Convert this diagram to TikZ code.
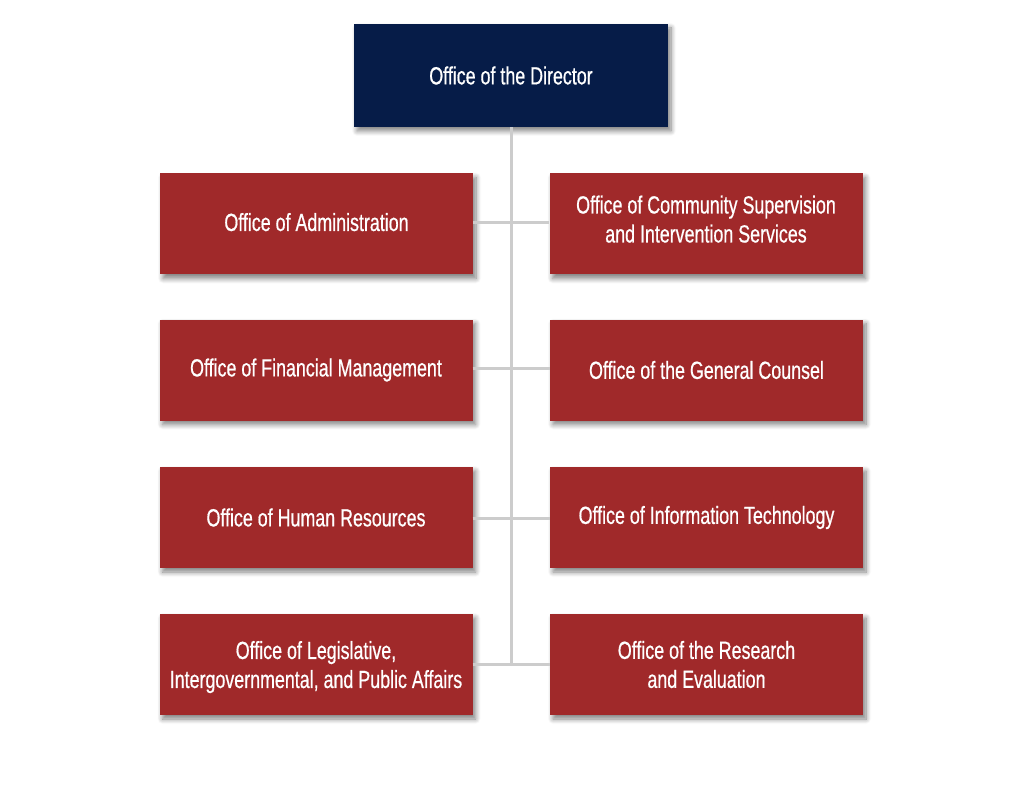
\documentclass[tikz,border=0pt]{standalone}
\usepackage{fontspec}
\setmainfont[FakeStretch=0.72,FakeBold=0.6]{Liberation Sans}
\usetikzlibrary{shadows.blur}
\definecolor{navy}{HTML}{061C48}
\definecolor{crimson}{HTML}{A0292A}
\definecolor{linegray}{HTML}{CCCCCC}
\tikzset{
  box/.style={rectangle, minimum width=313pt, minimum height=101pt, text=white,
    align=center, font=\fontsize{24.8}{29}\selectfont, inner sep=0pt,
    blur shadow={shadow xshift=3pt, shadow yshift=-4pt, shadow blur steps=8, shadow blur radius=5pt, shadow opacity=50}},
  office/.style={box, fill=crimson},
  head/.style={box, fill=navy, minimum width=314pt, minimum height=103pt},
  link/.style={draw=linegray, line width=3pt}
}
\begin{document}
\begin{tikzpicture}[x=1pt,y=-1pt]
\useasboundingbox (0,0) rectangle (1024,791);
\node[head] (dir) at (511,75.5) {Office of the Director};
\coordinate (j4) at (511,664);
\draw[link] (dir.south) -- (j4);
\node[office, text depth=4pt] (l1) at (316.5,224) {Office of Administration};
\node[office, text depth=10pt] (r1) at (706,224) {Office of Community Supervision\\and Intervention Services};
\node[office] (l2) at (316,370) {Office of Financial Management};
\node[office] (r2) at (706.5,370) {Office of the General Counsel};
\node[office] (l3) at (316,517.5) {Office of Human Resources};
\node[office] (r3) at (706.5,517.5) {Office of Information Technology};
\node[office, text depth=0pt] (l4) at (316,664.5) {Office of Legislative,\\Intergovernmental, and Public Affairs};
\node[office] (r4) at (706.5,664.5) {Office of the Research\\and Evaluation};
\draw[link] (l1.east|-0,223) -- (r1.west|-0,223);
\draw[link] (l2.east|-0,368) -- (r2.west|-0,368);
\draw[link] (l3.east|-0,518) -- (r3.west|-0,518);
\draw[link] (l4.east|-j4) -- (r4.west|-j4);
\end{tikzpicture}
\end{document}
